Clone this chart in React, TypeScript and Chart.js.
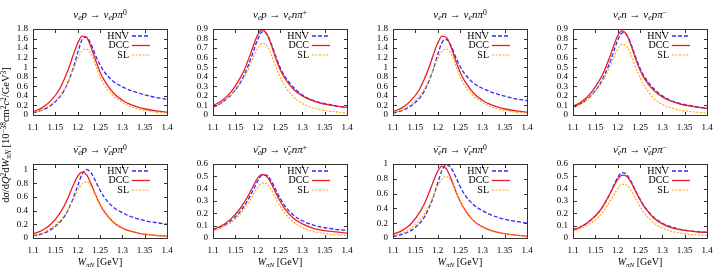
import React, { useEffect, useRef } from "react";
import { Chart, registerables } from "chart.js";
Chart.register(...registerables);

// ---------- data ----------
const W = [1.10, 1.12, 1.14, 1.16, 1.17, 1.18, 1.19, 1.20, 1.21, 1.22, 1.23, 1.24, 1.25, 1.26, 1.28, 1.30, 1.32, 1.34, 1.36, 1.38, 1.40];
const xTicks = [1.1, 1.15, 1.2, 1.25, 1.3, 1.35, 1.4];
const xTickLabels = ["1.1", "1.15", "1.2", "1.25", "1.3", "1.35", "1.4"];
const yTicksBig = [0, 0.2, 0.4, 0.6, 0.8, 1, 1.2, 1.4, 1.6, 1.8];
const yTicksSmall = [0, 0.1, 0.2, 0.3, 0.4, 0.5, 0.6, 0.7, 0.8, 0.9];
const yTicksAnti = [0, 0.2, 0.4, 0.6, 0.8, 1];
const yTicksAntiSmall = [0, 0.1, 0.2, 0.3, 0.4, 0.5, 0.6];
const seriesNames = ["HNV", "DCC", "SL"];

// nu_e p -> nu_e p pi0
const hnv1 = [0.04, 0.10, 0.20, 0.38, 0.52, 0.72, 0.98, 1.30, 1.58, 1.63, 1.48, 1.25, 1.05, 0.90, 0.70, 0.59, 0.51, 0.45, 0.40, 0.36, 0.33];
const dcc1 = [0.07, 0.15, 0.30, 0.55, 0.75, 0.98, 1.25, 1.50, 1.65, 1.62, 1.42, 1.15, 0.90, 0.72, 0.46, 0.31, 0.21, 0.15, 0.11, 0.08, 0.06];
const sl1 = [0.05, 0.11, 0.22, 0.40, 0.54, 0.72, 0.95, 1.18, 1.34, 1.38, 1.28, 1.05, 0.80, 0.62, 0.40, 0.26, 0.17, 0.11, 0.08, 0.05, 0.04];
// nu_e p -> nu_e n pi+
const hnv2 = [0.08, 0.13, 0.21, 0.33, 0.42, 0.53, 0.66, 0.79, 0.87, 0.85, 0.75, 0.62, 0.50, 0.41, 0.29, 0.21, 0.16, 0.13, 0.11, 0.09, 0.08];
const dcc2 = [0.10, 0.15, 0.24, 0.38, 0.47, 0.59, 0.72, 0.84, 0.89, 0.85, 0.74, 0.60, 0.48, 0.39, 0.27, 0.20, 0.155, 0.125, 0.105, 0.09, 0.08];
const sl2 = [0.08, 0.13, 0.21, 0.32, 0.40, 0.49, 0.60, 0.70, 0.75, 0.73, 0.64, 0.51, 0.40, 0.31, 0.19, 0.12, 0.08, 0.055, 0.04, 0.03, 0.02];
// nu_e n -> nu_e n pi0
const hnv3 = [0.04, 0.09, 0.19, 0.36, 0.50, 0.70, 0.95, 1.26, 1.52, 1.58, 1.45, 1.22, 1.02, 0.87, 0.67, 0.56, 0.48, 0.42, 0.37, 0.33, 0.30];
const dcc3 = [0.07, 0.15, 0.30, 0.55, 0.75, 0.98, 1.25, 1.50, 1.65, 1.62, 1.42, 1.15, 0.90, 0.72, 0.46, 0.31, 0.21, 0.15, 0.11, 0.08, 0.06];
const sl3 = [0.05, 0.11, 0.22, 0.40, 0.54, 0.72, 0.95, 1.18, 1.34, 1.38, 1.28, 1.05, 0.80, 0.62, 0.40, 0.26, 0.17, 0.11, 0.08, 0.05, 0.04];
// nu_e n -> nu_e p pi-
const hnv4 = [0.08, 0.125, 0.20, 0.32, 0.41, 0.52, 0.65, 0.78, 0.86, 0.84, 0.74, 0.61, 0.49, 0.40, 0.28, 0.20, 0.15, 0.12, 0.10, 0.085, 0.07];
const dcc4 = [0.09, 0.14, 0.23, 0.37, 0.46, 0.58, 0.71, 0.83, 0.88, 0.84, 0.73, 0.59, 0.47, 0.38, 0.26, 0.19, 0.145, 0.115, 0.095, 0.08, 0.07];
const sl4 = [0.075, 0.12, 0.20, 0.31, 0.39, 0.48, 0.59, 0.69, 0.74, 0.72, 0.63, 0.50, 0.39, 0.30, 0.18, 0.11, 0.075, 0.05, 0.037, 0.028, 0.02];
// anti-nu_e p -> anti-nu_e p pi0
const hnv5 = [0.03, 0.06, 0.12, 0.23, 0.31, 0.43, 0.58, 0.76, 0.93, 1.00, 0.95, 0.83, 0.70, 0.59, 0.45, 0.37, 0.31, 0.27, 0.24, 0.22, 0.20];
const dcc5 = [0.06, 0.11, 0.20, 0.36, 0.47, 0.61, 0.77, 0.90, 0.96, 0.92, 0.79, 0.63, 0.49, 0.38, 0.23, 0.145, 0.095, 0.065, 0.048, 0.036, 0.028];
const sl5 = [0.04, 0.07, 0.14, 0.25, 0.33, 0.43, 0.56, 0.69, 0.79, 0.82, 0.76, 0.63, 0.50, 0.39, 0.24, 0.15, 0.10, 0.07, 0.05, 0.035, 0.028];
// anti-nu_e p -> anti-nu_e n pi+
const hnv6 = [0.065, 0.095, 0.14, 0.21, 0.26, 0.32, 0.39, 0.46, 0.51, 0.51, 0.465, 0.395, 0.325, 0.265, 0.185, 0.14, 0.11, 0.09, 0.078, 0.068, 0.062];
const dcc6 = [0.07, 0.10, 0.155, 0.235, 0.29, 0.35, 0.42, 0.485, 0.515, 0.50, 0.445, 0.37, 0.30, 0.24, 0.16, 0.115, 0.085, 0.065, 0.055, 0.047, 0.04];
const sl6 = [0.06, 0.085, 0.125, 0.19, 0.235, 0.29, 0.35, 0.41, 0.445, 0.44, 0.395, 0.325, 0.26, 0.205, 0.13, 0.085, 0.058, 0.042, 0.032, 0.025, 0.02];
// anti-nu_e n -> anti-nu_e n pi0
const hnv7 = [0.02, 0.05, 0.10, 0.20, 0.28, 0.40, 0.55, 0.74, 0.92, 0.99, 0.95, 0.83, 0.70, 0.59, 0.45, 0.37, 0.31, 0.27, 0.24, 0.22, 0.20];
const dcc7 = [0.05, 0.10, 0.19, 0.35, 0.46, 0.60, 0.76, 0.90, 0.97, 0.93, 0.80, 0.64, 0.50, 0.39, 0.235, 0.15, 0.10, 0.07, 0.05, 0.035, 0.025];
const sl7 = [0.03, 0.07, 0.13, 0.24, 0.32, 0.43, 0.56, 0.70, 0.80, 0.83, 0.77, 0.64, 0.50, 0.39, 0.24, 0.15, 0.10, 0.07, 0.05, 0.035, 0.025];
// anti-nu_e n -> anti-nu_e p pi-
const hnv8 = [0.065, 0.095, 0.145, 0.22, 0.275, 0.34, 0.415, 0.49, 0.53, 0.515, 0.46, 0.385, 0.315, 0.255, 0.17, 0.12, 0.09, 0.07, 0.058, 0.05, 0.045];
const dcc8 = [0.065, 0.095, 0.145, 0.22, 0.275, 0.34, 0.41, 0.475, 0.51, 0.50, 0.45, 0.38, 0.31, 0.25, 0.165, 0.115, 0.085, 0.068, 0.057, 0.05, 0.045];
const sl8 = [0.055, 0.08, 0.12, 0.18, 0.225, 0.28, 0.34, 0.40, 0.435, 0.43, 0.385, 0.32, 0.255, 0.20, 0.125, 0.08, 0.055, 0.04, 0.03, 0.024, 0.02];

// process labels: [anti, target, final nucleon, pion charge]
const processes: [boolean, string, string, string][] = [
  [false, "p", "p", "0"],
  [false, "p", "n", "+"],
  [false, "n", "n", "0"],
  [false, "n", "p", "−"],
  [true, "p", "p", "0"],
  [true, "p", "n", "+"],
  [true, "n", "n", "0"],
  [true, "n", "p", "−"],
];
const panelSeries = [
  [hnv1, dcc1, sl1],
  [hnv2, dcc2, sl2],
  [hnv3, dcc3, sl3],
  [hnv4, dcc4, sl4],
  [hnv5, dcc5, sl5],
  [hnv6, dcc6, sl6],
  [hnv7, dcc7, sl7],
  [hnv8, dcc8, sl8],
];
const panelYMax = [1.8, 0.9, 1.8, 0.9, 1.08, 0.6, 1.0, 0.6];
const panelYTicks = [yTicksBig, yTicksSmall, yTicksBig, yTicksSmall, yTicksAnti, yTicksAntiSmall, yTicksAnti, yTicksAntiSmall];

// ---------- styles ----------
const COLORS = ["#2b2bff", "#ee1c24", "#ffa500"];
const DASHES = [[4, 2], [], [2, 1.5]];
const WIDTHS = [1.3, 1.3, 1.1];
const SERIF = '"Liberation Serif", "DejaVu Serif", serif';

const framePlugin = {
  id: "frame",
  afterDatasetsDraw(chart: any) {
    const { ctx, chartArea: a } = chart;
    const xs = chart.scales.x;
    const ys = chart.scales.y;
    ctx.save();
    ctx.strokeStyle = "#333";
    ctx.lineWidth = 1;
    ctx.setLineDash([]);
    ctx.beginPath();
    const L = Math.round(a.left) + 0.5, R = Math.round(a.right) + 0.5;
    const T = Math.round(a.top) + 0.5, B = Math.round(a.bottom) + 0.5;
    const tl = 3.5;
    xs.ticks.forEach((t: any) => {
      const p = Math.round(xs.getPixelForValue(t.value)) + 0.5;
      ctx.moveTo(p, B); ctx.lineTo(p, B - tl);
      ctx.moveTo(p, T); ctx.lineTo(p, T + tl);
    });
    ys.ticks.forEach((t: any) => {
      const p = Math.round(ys.getPixelForValue(t.value)) + 0.5;
      ctx.moveTo(L, p); ctx.lineTo(L + tl, p);
      ctx.moveTo(R, p); ctx.lineTo(R - tl, p);
    });
    ctx.stroke();
    ctx.strokeRect(L, T, R - L, B - T);
    // legend
    ctx.font = `10px ${SERIF}`;
    ctx.textAlign = "right";
    ctx.textBaseline = "middle";
    chart.data.datasets.forEach((ds: any, i: number) => {
      const y = a.top + 7 + i * 9.5;
      ctx.fillStyle = "#000";
      ctx.fillText(ds.label, a.right - 38, y);
      ctx.strokeStyle = ds.borderColor;
      ctx.lineWidth = ds.borderWidth;
      ctx.setLineDash(ds.borderDash || []);
      ctx.beginPath();
      ctx.moveTo(a.right - 35, y);
      ctx.lineTo(a.right - 17, y);
      ctx.stroke();
    });
    ctx.restore();
  },
};

function Panel({ idx }: { idx: number }) {
  const ref = useRef<HTMLCanvasElement>(null);
  const bottomRow = idx >= 4;
  useEffect(() => {
    const yT = panelYTicks[idx];
    const chart = new Chart(ref.current!, {
      type: "line",
      data: {
        datasets: panelSeries[idx].map((vals, i) => ({
          label: seriesNames[i],
          data: W.map((w, k) => ({ x: w, y: vals[k] })),
          borderColor: COLORS[i],
          borderWidth: WIDTHS[i],
          borderDash: DASHES[i],
          pointRadius: 0,
          fill: false,
          cubicInterpolationMode: "monotone",
          order: 2 - i,
        })),
      },
      options: {
        animation: false,
        responsive: false,
        devicePixelRatio: 1,
        events: [],
        layout: { padding: { top: 29, right: 13, left: 0, bottom: 0 } },
        plugins: { legend: { display: false }, tooltip: { enabled: false }, title: { display: false } },
        scales: {
          x: {
            type: "linear",
            min: 1.1,
            max: 1.4,
            grid: { display: false, drawTicks: false },
            border: { display: false },
            afterBuildTicks: (s: any) => { s.ticks = xTicks.map((v) => ({ value: v })); },
            afterFit: (s: any) => { s.height = bottomRow ? 32 : 20; },
            ticks: {
              padding: 7,
              maxRotation: 0,
              autoSkip: false,
              color: "#000",
              font: { family: SERIF, size: 9 },
              callback: (v: any) => { const k = xTicks.findIndex((t) => Math.abs(t - v) < 1e-6); return k >= 0 ? xTickLabels[k] : ""; },
            },
          },
          y: {
            type: "linear",
            min: 0,
            max: panelYMax[idx],
            grid: { display: false, drawTicks: false },
            border: { display: false },
            afterBuildTicks: (s: any) => { s.ticks = yT.map((v) => ({ value: v })); },
            afterFit: (s: any) => { s.width = 33; },
            ticks: {
              padding: 5,
              autoSkip: false,
              color: "#000",
              font: { family: SERIF, size: 9 },
              callback: (v: any) => String(Math.round(Number(v) * 100) / 100),
            },
          },
        },
      } as any,
      plugins: [framePlugin],
    });
    return () => chart.destroy();
  }, [idx]);
  const col = idx % 4;
  const row = bottomRow ? 1 : 0;
  return (
    <canvas
      ref={ref}
      width={180}
      height={135}
      style={{ position: "absolute", left: col * 180, top: row * 135, width: 180, height: 135 }}
    />
  );
}

const subS: React.CSSProperties = { fontSize: "0.7em", verticalAlign: "-0.3em", lineHeight: 0 };
const supS: React.CSSProperties = { fontSize: "0.7em", verticalAlign: "0.45em", lineHeight: 0 };

function Nu({ anti }: { anti: boolean }) {
  return (
    <span>
      <i>{anti ? "ν\u0304" : "ν"}</i>
      <span style={subS}><i>e</i></span>
    </span>
  );
}

function Title({ idx }: { idx: number }) {
  const [anti, tgt, fin, ch] = processes[idx];
  const col = idx % 4;
  const row = idx >= 4 ? 1 : 0;
  return (
    <div
      style={{
        position: "absolute",
        left: col * 180 + 33,
        width: 134,
        top: row * 135 + 7,
        height: 14,
        lineHeight: "14px",
        textAlign: "center",
        fontFamily: SERIF,
        fontSize: 11,
        whiteSpace: "nowrap",
      }}
    >
      <Nu anti={anti} />
      <i>{tgt}</i> → <Nu anti={anti} />
      <i>{fin}π</i>
      <span style={supS}>{ch}</span>
    </div>
  );
}

export default function App() {
  const idxs = [0, 1, 2, 3, 4, 5, 6, 7];
  return (
    <div style={{ position: "absolute", left: 0, top: 0, width: 720, height: 270, background: "#fff", overflow: "hidden" }}>
      {idxs.map((i) => <Panel key={"p" + i} idx={i} />)}
      {idxs.map((i) => <Title key={"t" + i} idx={i} />)}
      {[0, 1, 2, 3].map((c) => (
        <div
          key={"xl" + c}
          style={{
            position: "absolute",
            left: c * 180 + 33,
            width: 134,
            top: 255,
            height: 14,
            lineHeight: "14px",
            textAlign: "center",
            fontFamily: SERIF,
            fontSize: 10,
            whiteSpace: "nowrap",
          }}
        >
          <i>W</i>
          <span style={subS}><i>πN</i></span> [GeV]
        </div>
      ))}
      <div
        style={{
          position: "absolute",
          left: 6 - 100,
          top: 135 - 7,
          width: 200,
          height: 14,
          lineHeight: "14px",
          textAlign: "center",
          fontFamily: SERIF,
          fontSize: 10.5,
          whiteSpace: "nowrap",
          transform: "rotate(-90deg)",
        }}
      >
        d<i>σ</i>/d<i>Q</i><span style={supS}>2</span>d<i>W</i><span style={subS}><i>πN</i></span> [10<span style={supS}>−38</span>cm<span style={supS}>2</span><i>c</i><span style={supS}>2</span>/GeV<span style={supS}>3</span>]
      </div>
    </div>
  );
}
